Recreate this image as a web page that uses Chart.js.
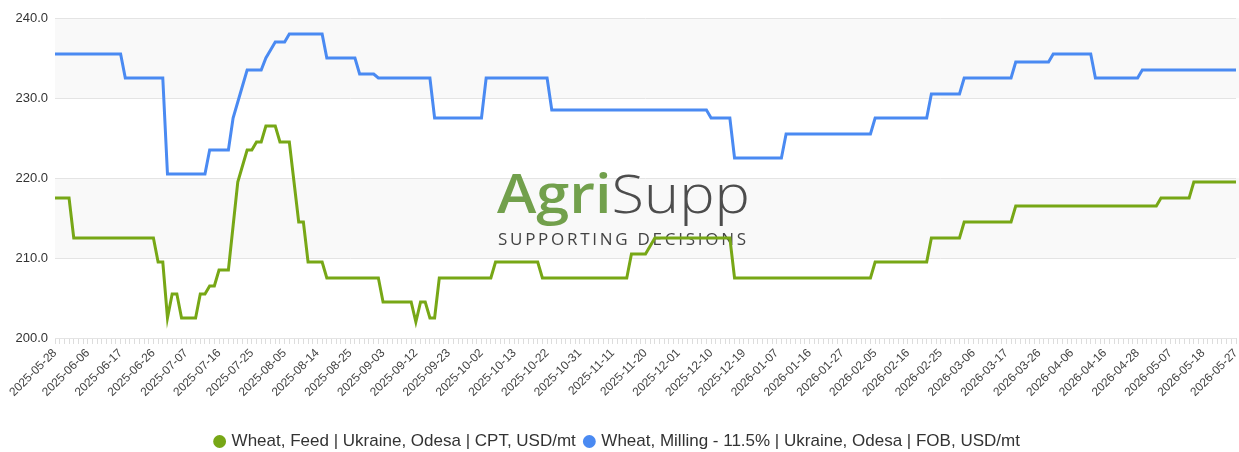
<!DOCTYPE html>
<html>
<head>
<meta charset="utf-8">
<script src="https://cdn.jsdelivr.net/npm/chart.js@4.4.1/dist/chart.umd.min.js"></script>
<style>
  html, body { margin: 0; padding: 0; background: #ffffff; }
  #wrap { width: 1239px; height: 452px; position: relative; }
</style>
</head>
<body>
<div id="wrap"><canvas id="c" width="1239" height="452"></canvas></div>
<script>
// ---- DATA ----
const tickLabels = ['2025-05-28','2025-06-06','2025-06-17','2025-06-26','2025-07-07','2025-07-16','2025-07-25','2025-08-05','2025-08-14','2025-08-25','2025-09-03','2025-09-12','2025-09-23','2025-10-02','2025-10-13','2025-10-22','2025-10-31','2025-11-11','2025-11-20','2025-12-01','2025-12-10','2025-12-19','2026-01-07','2026-01-16','2026-01-27','2026-02-05','2026-02-16','2026-02-25','2026-03-06','2026-03-17','2026-03-26','2026-04-06','2026-04-16','2026-04-28','2026-05-07','2026-05-18','2026-05-27'];
const pointsPerTickLabel = 7;

const seriesNames = ['Wheat, Feed | Ukraine, Odesa | CPT, USD/mt', 'Wheat, Milling - 11.5% | Ukraine, Odesa | FOB, USD/mt'];

const feedValues = [
  217.5,217.5,217.5,217.5,
  212.5,212.5,212.5,212.5,212.5,212.5,212.5,212.5,212.5,212.5,212.5,212.5,212.5,212.5,212.5,212.5,212.5,212.5,
  209.5,209.5,
  202.5,
  205.5,205.5,
  202.5,202.5,202.5,202.5,
  205.5,205.5,
  206.5,206.5,
  208.5,208.5,208.5,
  214,219.5,221.5,
  223.5,223.5,
  224.5,224.5,
  226.5,226.5,226.5,
  224.5,224.5,224.5,
  219.5,
  214.5,214.5,
  209.5,209.5,209.5,209.5,
  207.5,207.5,207.5,207.5,207.5,207.5,207.5,207.5,207.5,207.5,207.5,207.5,
  204.5,204.5,204.5,204.5,204.5,204.5,204.5,
  202,
  204.5,204.5,
  202.5,202.5,
  207.5,207.5,207.5,207.5,207.5,207.5,207.5,207.5,207.5,207.5,207.5,207.5,
  209.5,209.5,209.5,209.5,209.5,209.5,209.5,209.5,209.5,209.5,
  207.5,207.5,207.5,207.5,207.5,207.5,207.5,207.5,207.5,207.5,207.5,207.5,207.5,207.5,207.5,207.5,207.5,207.5,207.5,
  210.5,210.5,210.5,210.5,
  211.5,
  212.5,212.5,212.5,212.5,212.5,212.5,212.5,212.5,212.5,212.5,212.5,212.5,212.5,212.5,212.5,212.5,212.5,
  207.5,207.5,207.5,207.5,207.5,207.5,207.5,207.5,207.5,207.5,207.5,207.5,207.5,207.5,207.5,207.5,207.5,207.5,207.5,207.5,207.5,207.5,207.5,207.5,207.5,207.5,207.5,207.5,207.5,207.5,
  209.5,209.5,209.5,209.5,209.5,209.5,209.5,209.5,209.5,209.5,209.5,209.5,
  212.5,212.5,212.5,212.5,212.5,212.5,212.5,
  214.5,214.5,214.5,214.5,214.5,214.5,214.5,214.5,214.5,214.5,214.5,
  216.5,216.5,216.5,216.5,216.5,216.5,216.5,216.5,216.5,216.5,216.5,216.5,216.5,216.5,216.5,216.5,216.5,216.5,216.5,216.5,216.5,216.5,216.5,216.5,216.5,216.5,216.5,216.5,216.5,216.5,216.5,
  217.5,217.5,217.5,217.5,217.5,217.5,217.5,
  219.5,219.5,219.5,219.5,219.5,219.5,219.5,219.5,219.5,219.5
];

const millingValues = [
  235.5,235.5,235.5,235.5,235.5,235.5,235.5,235.5,235.5,235.5,235.5,235.5,235.5,235.5,235.5,
  232.5,232.5,232.5,232.5,232.5,232.5,232.5,232.5,232.5,
  220.5,220.5,220.5,220.5,220.5,220.5,220.5,220.5,220.5,
  223.5,223.5,223.5,223.5,223.5,
  227.5,229.5,231.5,
  233.5,233.5,233.5,233.5,
  235,236,
  237,237,237,
  238,238,238,238,238,238,238,238,
  235,235,235,235,235,235,235,
  233,233,233,233,
  232.5,232.5,232.5,232.5,232.5,232.5,232.5,232.5,232.5,232.5,232.5,232.5,
  227.5,227.5,227.5,227.5,227.5,227.5,227.5,227.5,227.5,227.5,227.5,
  232.5,232.5,232.5,232.5,232.5,232.5,232.5,232.5,232.5,232.5,232.5,232.5,232.5,232.5,
  228.5,228.5,228.5,228.5,228.5,228.5,228.5,228.5,228.5,228.5,228.5,228.5,228.5,228.5,228.5,228.5,228.5,228.5,228.5,228.5,228.5,228.5,228.5,228.5,228.5,228.5,228.5,228.5,228.5,228.5,228.5,228.5,228.5,228.5,
  227.5,227.5,227.5,227.5,227.5,
  222.5,222.5,222.5,222.5,222.5,222.5,222.5,222.5,222.5,222.5,222.5,
  225.5,225.5,225.5,225.5,225.5,225.5,225.5,225.5,225.5,225.5,225.5,225.5,225.5,225.5,225.5,225.5,225.5,225.5,225.5,
  227.5,227.5,227.5,227.5,227.5,227.5,227.5,227.5,227.5,227.5,227.5,227.5,
  230.5,230.5,230.5,230.5,230.5,230.5,230.5,
  232.5,232.5,232.5,232.5,232.5,232.5,232.5,232.5,232.5,232.5,232.5,
  234.5,234.5,234.5,234.5,234.5,234.5,234.5,234.5,
  235.5,235.5,235.5,235.5,235.5,235.5,235.5,235.5,235.5,
  232.5,232.5,232.5,232.5,232.5,232.5,232.5,232.5,232.5,232.5,
  233.5,233.5,233.5,233.5,233.5,233.5,233.5,233.5,233.5,233.5,233.5,233.5,233.5,233.5,233.5,233.5,233.5,233.5,233.5,233.5,233.5
];

const yMin = 200, yMax = 240, yStep = 10;
const bandRanges = [[230, 240], [210, 220]];

// category labels: tick label every 7th point, blank elsewhere
const categories = feedValues.map((_, i) => (i % pointsPerTickLabel === 0 ? (tickLabels[i / pointsPerTickLabel] || '') : ''));

const FEED_COLOR = '#77a716';
const MILL_COLOR = '#4a8af2';

const bandPlugin = {
  id: 'bands',
  beforeDraw(chart) {
    const { ctx, chartArea, scales } = chart;
    const y = scales.y;
    ctx.save();
    ctx.fillStyle = '#f9f9f9';
    bandRanges.forEach(([a, b]) => {
      const top = y.getPixelForValue(b), bot = y.getPixelForValue(a);
      ctx.fillRect(chartArea.left, top, chart.width - chartArea.left, bot - top);
    });
    ctx.restore();
  }
};

const logoPlugin = {
  id: 'logo',
  beforeDatasetsDraw(chart) {
    const ctx = chart.ctx;
    ctx.save();
    const left = 497, targetW = 253, base = 213, size = 54;
    ctx.textBaseline = 'alphabetic';
    ctx.font = '600 ' + size + 'px "Open Sans"';
    const w1 = ctx.measureText('Agri').width;
    ctx.font = '300 ' + size + 'px "Open Sans"';
    const w2 = ctx.measureText('Supp').width;
    const sx = targetW / (w1 + w2);
    ctx.translate(left, base);
    ctx.scale(sx, 1);
    ctx.font = '600 ' + size + 'px "Open Sans"';
    ctx.fillStyle = '#72a04c';
    ctx.fillText('Agri', 0, 0);
    ctx.font = '300 ' + size + 'px "Open Sans"';
    ctx.fillStyle = '#4d4d4d';
    ctx.fillText('Supp', w1, 0);
    ctx.restore();

    ctx.save();
    const sub = 'SUPPORTING DECISIONS';
    ctx.font = '400 17px "Open Sans"';
    ctx.fillStyle = '#444444';
    ctx.textBaseline = 'alphabetic';
    const chars = sub.split('');
    const widths = chars.map(c => ctx.measureText(c).width);
    const total = widths.reduce((a, b) => a + b, 0);
    const subLeft = 498, subW = 248;
    const gap = (subW - total) / (chars.length - 1);
    let x = subLeft;
    chars.forEach((c, i) => { ctx.fillText(c, x, 245); x += widths[i] + gap; });
    ctx.restore();
  }
};

new Chart(document.getElementById('c'), {
  type: 'line',
  data: {
    labels: categories,
    datasets: [
      { label: seriesNames[0], data: feedValues, borderColor: FEED_COLOR, backgroundColor: FEED_COLOR, borderWidth: 3, pointRadius: 0, tension: 0, fill: false },
      { label: seriesNames[1], data: millingValues, borderColor: MILL_COLOR, backgroundColor: MILL_COLOR, borderWidth: 3, pointRadius: 0, tension: 0, fill: false }
    ]
  },
  options: {
    responsive: false,
    animation: false,
    layout: { padding: { top: 18, right: 3, left: 0, bottom: -8 } },
    plugins: {
      tooltip: { enabled: false },
      legend: {
        position: 'bottom',
        labels: {
          usePointStyle: true,
          pointStyle: 'circle',
          boxWidth: 7,
          boxHeight: 7,
          padding: 10,
          color: '#333333',
          font: { family: '"Liberation Sans", Arial, sans-serif', size: 17 }
        }
      }
    },
    scales: {
      x: {
        type: 'category',
        offset: false,
        grid: { drawOnChartArea: false, drawTicks: true, tickLength: 6, color: '#dddddd' },
        border: { display: false },
        afterFit(scale) { scale.height = 85; scale.paddingRight = 0; },
        ticks: {
          autoSkip: false,
          minRotation: 45,
          maxRotation: 45,
          padding: 2,
          color: '#444444',
          font: { family: '"Liberation Sans", Arial, sans-serif', size: 12 },
          callback(value, index) { return categories[index]; }
        }
      },
      y: {
        min: yMin,
        max: yMax,
        grid: { color: '#e4e4e4', drawTicks: false },
        border: { display: false },
        afterFit(scale) { scale.width = 55; },
        ticks: {
          stepSize: yStep,
          padding: 7,
          color: '#333333',
          font: { family: '"Liberation Sans", Arial, sans-serif', size: 13 },
          callback(v) { return Number(v).toFixed(1); }
        }
      }
    }
  },
  plugins: [bandPlugin, logoPlugin]
});
</script>
</body>
</html>
